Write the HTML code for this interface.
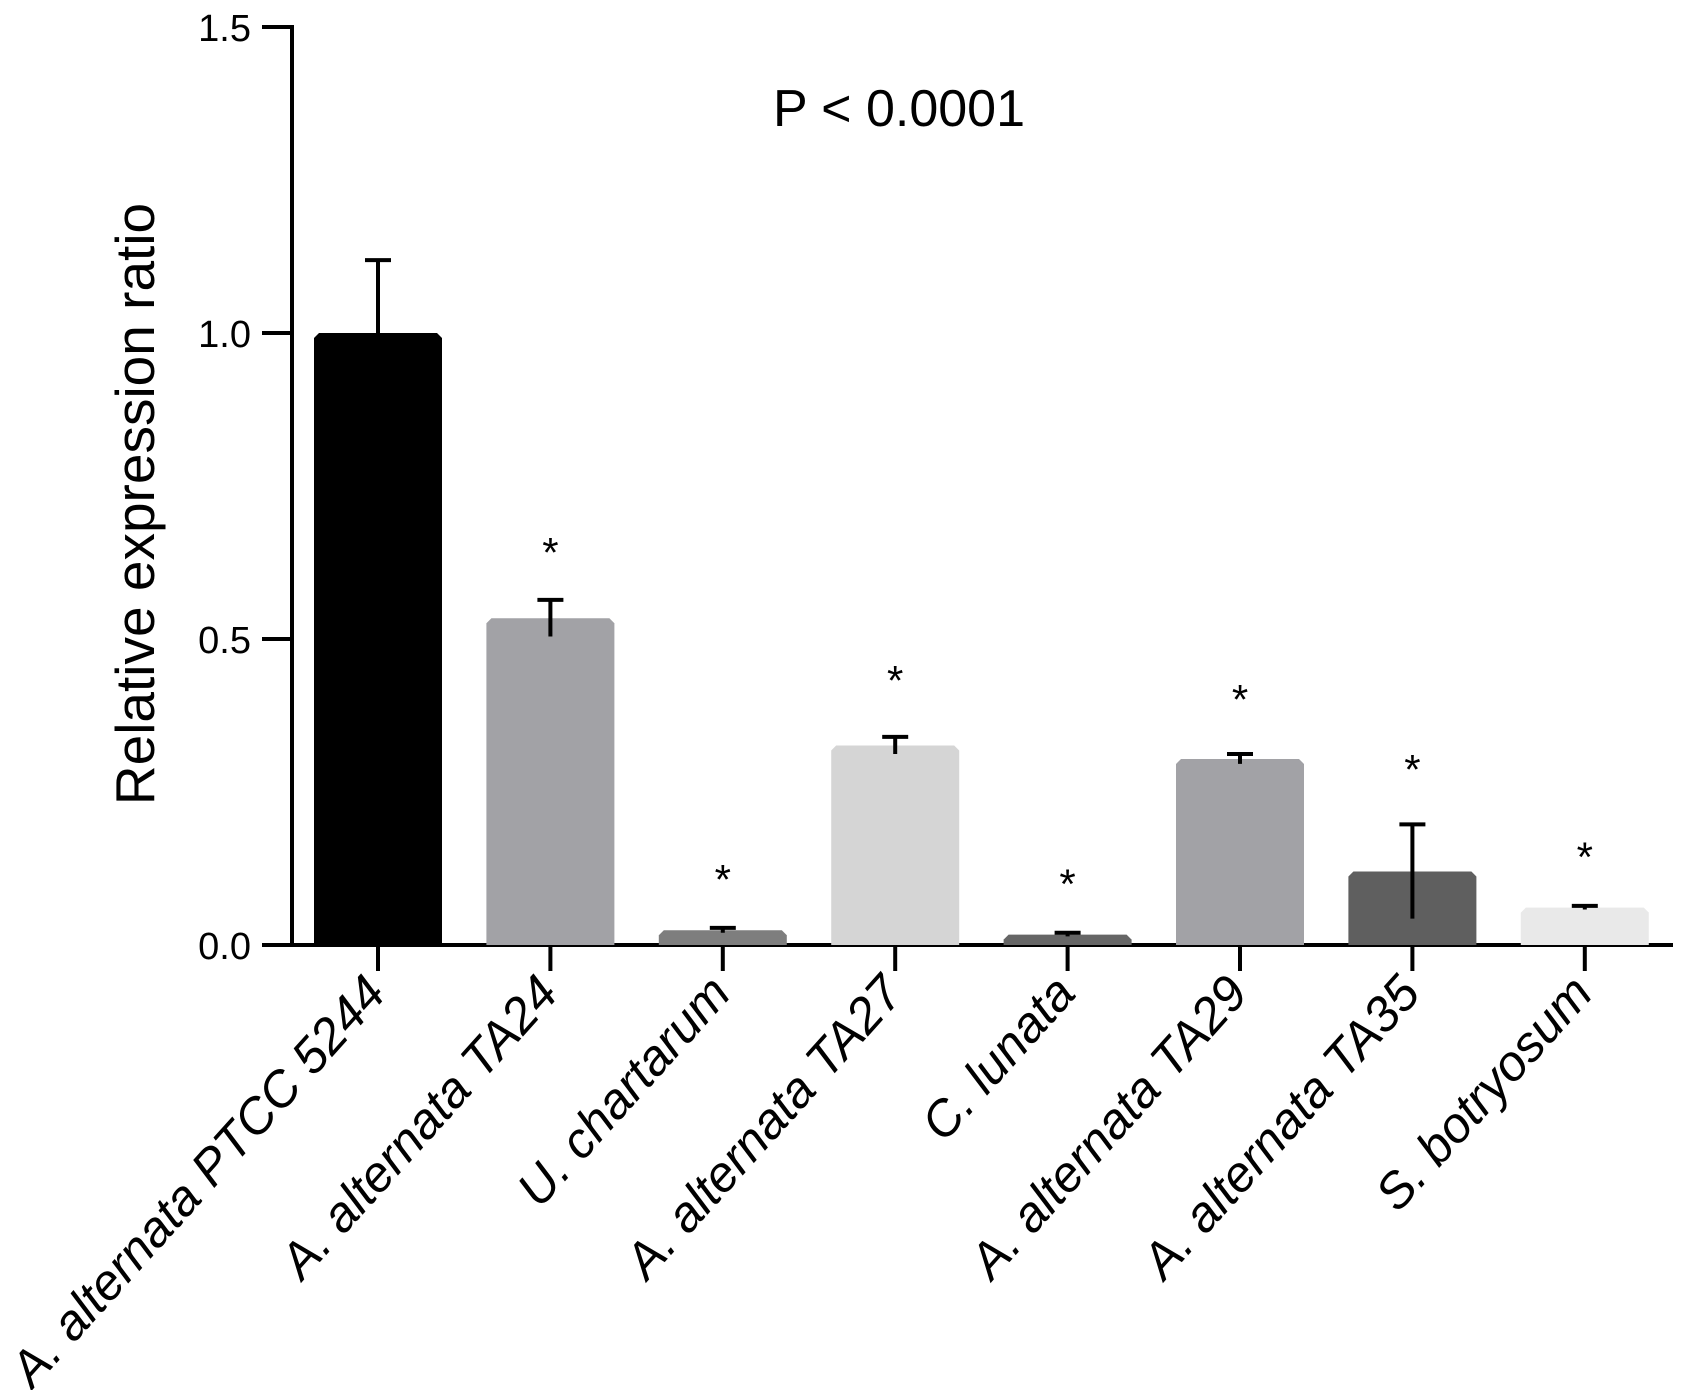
<!DOCTYPE html>
<html><head><meta charset="utf-8"><style>html,body{margin:0;padding:0;background:#fff}svg{display:block}text{font-family:"Liberation Sans",Arial,sans-serif;fill:#000}</style></head>
<body>
<svg id="chart" width="1682" height="1390" viewBox="0 0 1682 1390" xmlns="http://www.w3.org/2000/svg">
<g id="axes"></g><g id="bars"></g>
<text x="899" y="126" font-size="52" text-anchor="middle">P &lt; 0.0001</text>
<text transform="translate(154,504) rotate(-90)" font-size="55" text-anchor="middle">Relative expression ratio</text>
</svg>
<script>
const categories=["A. alternata PTCC 5244","A. alternata TA24","U. chartarum","A. alternata TA27","C. lunata","A. alternata TA29","A. alternata TA35","S. botryosum"];
const values=[1.0,0.534,0.024,0.326,0.017,0.304,0.12,0.061];
const errors=[0.119,0.03,0.004,0.014,0.003,0.008,0.077,0.003];
const starLevels=[null,0.663,0.129,0.454,0.122,0.423,0.309,0.166];
const colors=["#000000","#a2a2a6","#7e7e7e","#d5d5d5","#666666","#a2a2a6","#5f5f5f","#e9e9e9"];
const yTicks=[0,0.5,1.0,1.5];
const yTickLabels=["0.0","0.5","1.0","1.5"];
const NS="http://www.w3.org/2000/svg";
const y0=945,yScale=612,xAxisX=292,firstX=378,step=172.4,bw=128;
const y=v=>y0-v*yScale, x=i=>firstX+i*step;
function mk(t,a,p){const e=document.createElementNS(NS,t);for(const k in a)e.setAttribute(k,a[k]);p.appendChild(e);return e;}
const ax=document.getElementById('axes'),bg=document.getElementById('bars');
const yl=mk('line',{x1:xAxisX,y1:y(1.5)-2,x2:xAxisX,y2:y0+2,stroke:'#000','stroke-width':4},ax);


const xl=mk('line',{x1:xAxisX-2,y1:y0,x2:1673,y2:y0,stroke:'#000','stroke-width':4},ax);


yTicks.forEach((t,i)=>{
 const tk=mk('line',{x1:262,y1:y(t),x2:xAxisX,y2:y(t),stroke:'#000','stroke-width':4},ax);
 
 
 const tl=mk('text',{x:251,y:y(t)+14,'font-size':38,'text-anchor':'end'},ax);
 tl.textContent=yTickLabels[i];
 
 
});
categories.forEach((c,i)=>{
 const cx=x(i),v=values[i],e=errors[i];
 const b=mk('path',{d:`M${cx-bw/2},${y0} L${cx-bw/2},${y(v)+5} L${cx-bw/2+5},${y(v)} L${cx+bw/2-5},${y(v)} L${cx+bw/2},${y(v)+5} L${cx+bw/2},${y0} Z`,fill:colors[i]},bg);
 
 
 const el=mk('path',{d:`M${cx},${y(v-e)} L${cx},${y(v+e)} M${cx-13},${y(v+e)} L${cx+13},${y(v+e)}`,stroke:'#000','stroke-width':4,fill:'none'},bg);
 
 
 const tk=mk('line',{x1:cx,y1:y0,x2:cx,y2:y0+26,stroke:'#000','stroke-width':4},ax);
 
 
 const tl=mk('text',{transform:`translate(${cx+10},${y0+50}) rotate(-48)`,'font-size':50,'font-style':'italic','text-anchor':'end'},ax);
 tl.textContent=c;
 
 
 if(starLevels[i]!==null){
  const s=mk('text',{x:cx,y:y(starLevels[i])+28,'font-size':42,'text-anchor':'middle'},bg);
  s.textContent='*';
  
  
 }
});
</script>
</body></html>
